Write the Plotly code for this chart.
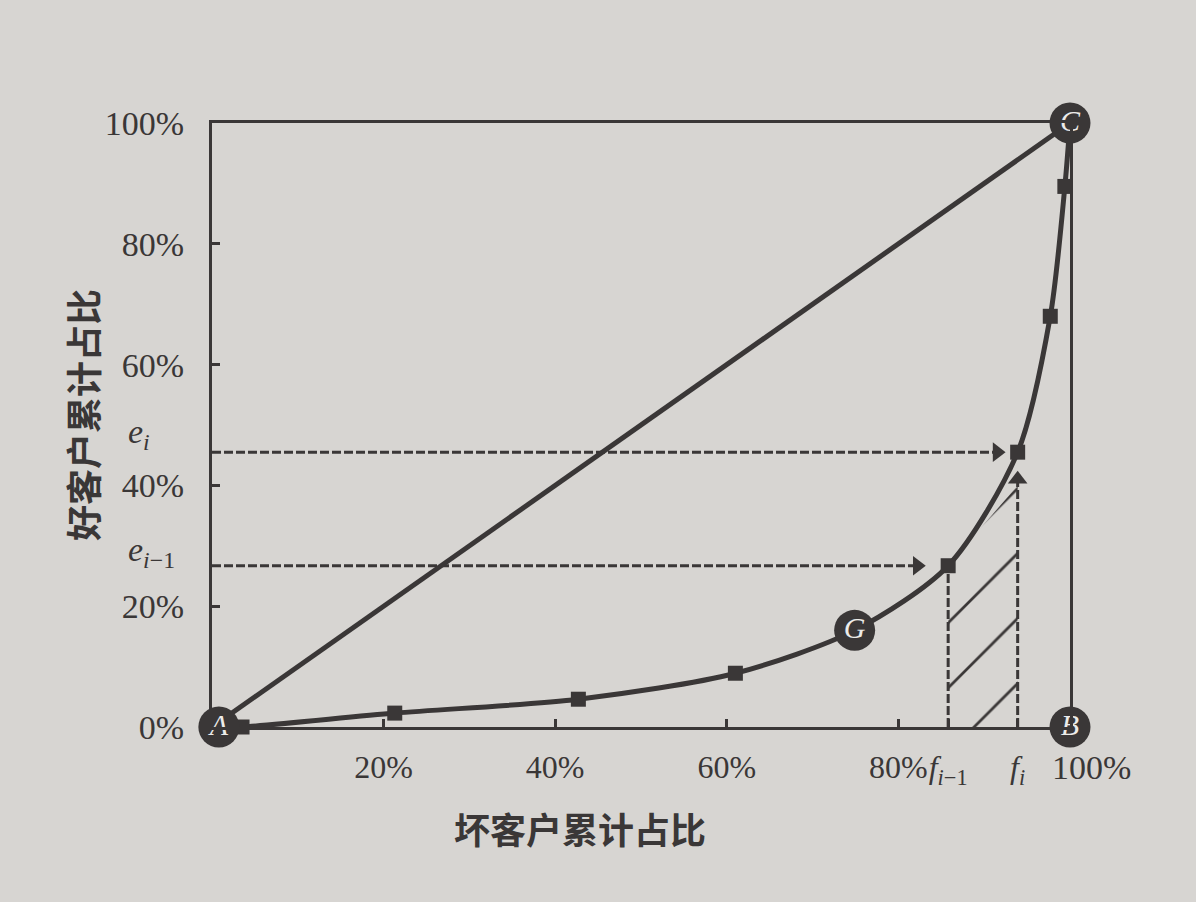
import plotly.graph_objects as go

# ---- data ----
curve_x = [0.0, 0.035, 0.213, 0.427, 0.610, 0.749, 0.858, 0.939, 0.977, 0.994, 1.0]
curve_y = [0.0, 0.0, 0.023, 0.046, 0.089, 0.160, 0.267, 0.455, 0.680, 0.895, 1.0]
marker_x = [0.035, 0.213, 0.427, 0.610, 0.858, 0.939, 0.977, 0.994]
marker_y = [0.0, 0.023, 0.046, 0.089, 0.267, 0.455, 0.680, 0.895]
diag_x = [0.0, 1.0]
diag_y = [0.0, 1.0]
point_labels = ["A", "B", "C", "G"]
point_x = [0.008, 1.0, 1.0, 0.749]
point_y = [0.0, 0.0, 1.0, 0.160]
f_prev, f_cur = 0.858, 0.939
e_prev, e_cur = 0.267, 0.455
arrow_end_x = [0.822, 0.915]      # horizontal arrows (e_{i-1}, e_i)
arrow_up_y = 0.41                 # vertical arrow tip at f_i
hatch_top = [e_prev, 0.40]
x_tickvals = [0.2, 0.4, 0.6, 0.8, f_prev, f_cur]
x_ticktext = ["20%", "40%", "60%", "80%",
              "<i>f</i><sub><i>i</i>−1</sub>", "<i>f</i><sub><i>i</i></sub>"]
x_end_label = "100%"
y_tickvals = [0.0, 0.2, 0.4, 0.6, 0.8, 1.0]
y_ticktext = ["0%", "20%", "40%", "60%", "80%", "100%"]
x_title = "坏客户累计占比"
y_title = "好客户累计占比"

INK = "#3a3737"
BG = "#d7d5d2"
SERIF = "Liberation Serif"
CJK = "Noto Sans CJK SC"
FS = 34
FSX = 32

fig = go.Figure()

# hatched band between f_{i-1} and f_i
fig.add_trace(go.Scatter(
    x=[f_prev, f_prev, f_cur, f_cur, f_prev],
    y=[0, hatch_top[0], hatch_top[1], 0, 0],
    mode="lines", line=dict(width=0), fill="toself",
    fillcolor="rgba(0,0,0,0)",
    fillpattern=dict(shape="/", size=46, solidity=0.06, fgcolor=INK,
                     bgcolor="rgba(0,0,0,0)", fillmode="replace"),
    hoverinfo="skip", showlegend=False))

dash = "9px,3px"
# horizontal dashed arrows from the y axis
for yv, xe in [(e_prev, arrow_end_x[0]), (e_cur, arrow_end_x[1])]:
    fig.add_trace(go.Scatter(x=[0, xe], y=[yv, yv], mode="lines",
                             line=dict(color=INK, width=3, dash=dash),
                             showlegend=False, hoverinfo="skip"))
fig.add_trace(go.Scatter(x=arrow_end_x, y=[e_prev, e_cur], mode="markers",
                         marker=dict(symbol="triangle-right", size=17, color=INK),
                         showlegend=False, hoverinfo="skip"))
# vertical dashed lines
fig.add_trace(go.Scatter(x=[f_prev, f_prev], y=[0, e_prev], mode="lines",
                         line=dict(color=INK, width=3, dash=dash),
                         showlegend=False, hoverinfo="skip"))
fig.add_trace(go.Scatter(x=[f_cur, f_cur], y=[0, arrow_up_y], mode="lines",
                         line=dict(color=INK, width=3, dash=dash),
                         showlegend=False, hoverinfo="skip"))
fig.add_trace(go.Scatter(x=[f_cur], y=[arrow_up_y], mode="markers",
                         marker=dict(symbol="triangle-up", size=17, color=INK),
                         showlegend=False, hoverinfo="skip"))

# diagonal A-C
fig.add_trace(go.Scatter(x=diag_x, y=diag_y, mode="lines",
                         line=dict(color=INK, width=5),
                         showlegend=False, hoverinfo="skip"))
# Lorenz-type curve
fig.add_trace(go.Scatter(x=curve_x, y=curve_y, mode="lines",
                         line=dict(color=INK, width=5, shape="spline", smoothing=0.8),
                         showlegend=False, hoverinfo="skip", cliponaxis=False))
fig.add_trace(go.Scatter(x=marker_x, y=marker_y, mode="markers",
                         marker=dict(symbol="square", size=15, color=INK),
                         showlegend=False, hoverinfo="skip", cliponaxis=False))
# labelled points
fig.add_trace(go.Scatter(x=point_x, y=point_y, mode="markers+text",
                         text=["<i>%s</i>" % t for t in point_labels],
                         textposition="middle center",
                         textfont=dict(family=SERIF, size=30, color="#ecebe9"),
                         marker=dict(symbol="circle", size=41, color=INK),
                         showlegend=False, hoverinfo="skip", cliponaxis=False))

ann = []
ann.append(dict(text="<i>e</i><sub><i>i</i></sub>", x=-0.1, xref="paper",
                y=0.485, yref="y", xanchor="left", yanchor="middle",
                showarrow=False, font=dict(family=SERIF, size=FS, color=INK)))
ann.append(dict(text="<i>e</i><sub><i>i</i>−1</sub>", x=-0.1, xref="paper",
                y=0.29, yref="y", xanchor="left", yanchor="middle",
                showarrow=False, font=dict(family=SERIF, size=FS, color=INK)))
ann.append(dict(text=x_end_label, x=1.025, xref="paper", y=0, yref="paper", yshift=-40,
                xanchor="center", yanchor="middle", showarrow=False,
                font=dict(family=SERIF, size=FS, color=INK)))
ann.append(dict(text=x_title, x=(580 - 212) / 858, xref="paper",
                y=-(828 - 727) / 604, yref="paper", xanchor="center", yanchor="middle",
                showarrow=False, font=dict(family=CJK, size=36, color=INK, weight="bold")))
ann.append(dict(text=y_title, x=(82 - 212) / 858, xref="paper",
                y=(727 - 415) / 604, yref="paper", xanchor="center", yanchor="middle",
                textangle=-90, showarrow=False,
                font=dict(family=CJK, size=36, color=INK, weight="bold")))

axis_common = dict(showgrid=False, zeroline=False, showline=True, mirror=True,
                   linecolor=INK, linewidth=3, ticks="inside", ticklen=8,
                   tickwidth=3, tickcolor=INK)

fig.update_layout(
    width=1196, height=902,
    margin=dict(l=212, r=126, t=123, b=175, autoexpand=False),
    paper_bgcolor=BG, plot_bgcolor=BG,
    xaxis=dict(range=[0, 1], tickvals=x_tickvals, ticktext=x_ticktext,
               tickangle=0, ticklabelstandoff=10,
               tickfont=dict(family=SERIF, size=FSX, color=INK), **axis_common),
    yaxis=dict(range=[0, 1], tickvals=y_tickvals, ticktext=y_ticktext,
               ticklabelstandoff=18,
               tickfont=dict(family=SERIF, size=FS, color=INK), **axis_common),
    annotations=ann,
    showlegend=False,
)

fig.write_html("out.html")
